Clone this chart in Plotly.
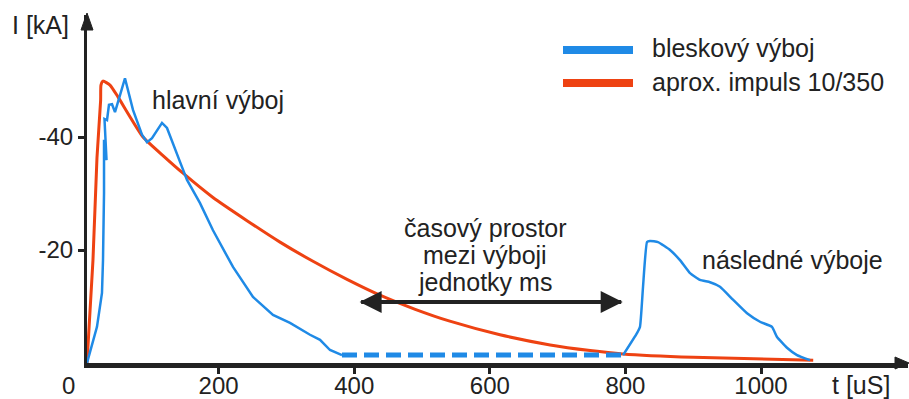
import plotly.graph_objects as go

# ---------------- data (time in µs, current in kA) ----------------
t_main = [5.9, 20.6, 28.0, 29.5, 31.0, 31.0, 34.7, 31.7, 35.4, 38.3, 42.8, 47.2, 54.6, 61.9,
          73.7, 87.0, 94.4, 101.8, 116.5, 123.9, 143.1, 153.4, 172.6, 191.7, 221.2, 250.7,
          280.2, 305.3, 334.8, 349.6, 364.3, 382.0]
i_main = [0, -6.4, -12.4, -18.2, -30.1, -39.5, -35.9, -43.2, -43.0, -45.7, -45.8, -44.4, -47.4, -50.4,
          -44.8, -40.4, -39.1, -39.8, -42.5, -41.6, -35.6, -32.4, -28.3, -23.5, -17.0, -11.7,
          -8.5, -7.1, -5.0, -4.1, -2.3, -1.4]

t_gap = [382.0, 796.5]
i_gap = [-1.4, -1.4]

t_next = [796.5, 817.1, 821.5, 826.0, 831.9, 836.3, 848.1, 865.8, 880.5, 895.3, 910.0, 924.8,
          939.5, 958.7, 979.4, 998.5, 1016.2, 1023.6, 1038.3, 1053.1, 1072.3]
i_next = [-1.4, -5.3, -6.4, -13.5, -21.4, -21.6, -21.4, -20.0, -18.2, -15.9, -14.7, -14.3,
          -13.5, -11.2, -8.8, -7.3, -6.4, -4.6, -2.7, -1.4, -0.5]

t_approx = [5.9, 14.7, 20.6, 26.0, 26.5, 29.5, 39.8, 51.6, 88.5, 120.0, 147.5, 191.7, 241.9,
            290.6, 339.2, 389.4, 438.0, 490.0, 541.0, 615.0, 689.0, 748.0, 796.0, 900.0, 1077.0]
i_approx = [0, -18.2, -36.3, -46.5, -49.2, -49.9, -49.2, -47.1, -40.0, -36.5, -33.6, -29.3, -25.2,
            -21.4, -18.0, -14.8, -12.0, -9.5, -7.4, -5.0, -3.2, -2.2, -1.6, -1.0, -0.5]

x_ticks = [200, 400, 600, 800, 1000]
y_ticks = [-40, -20]
y_tick_text = ["-40", "-20"]

legend_names = ["bleskový výboj", "aprox. impuls 10/350"]
label_main = "hlavní výboj"
label_gap = ["časový prostor", "mezi výboji", "jednotky ms"]
label_next = "následné výboje"
gap_arrow_t = [408, 796]
gap_arrow_i = -10.8

# ---------------- styles ----------------
BLUE = "#1f8ae6"
RED = "#ee4212"
INK = "#222222"
FONT = "Liberation Sans, Arial, sans-serif"

W, H = 909, 399
L, R, T, B = 87, 1, 15, 36
pw, ph = W - L - R, H - T - B


def fx(p):
    return (p - L) / pw


def fy(p):
    return (H - B - p) / ph


fig = go.Figure()
fig.add_trace(go.Scatter(x=t_approx, y=i_approx, mode="lines",
                         line=dict(color=RED, width=3, shape="spline", smoothing=0.5),
                         name=legend_names[1], hoverinfo="skip"))
fig.add_trace(go.Scatter(x=t_main, y=i_main, mode="lines",
                         line=dict(color=BLUE, width=2.5),
                         name=legend_names[0], hoverinfo="skip"))
fig.add_trace(go.Scatter(x=t_gap, y=i_gap, mode="lines",
                         line=dict(color=BLUE, width=5, dash="15px,7px"),
                         showlegend=False, hoverinfo="skip"))
fig.add_trace(go.Scatter(x=t_next, y=i_next, mode="lines",
                         line=dict(color=BLUE, width=2.5, shape="spline", smoothing=0.4),
                         showlegend=False, hoverinfo="skip"))

annotations = []
txt = dict(family=FONT, size=25, color=INK)


def label(x, y, text, anchor="center"):
    annotations.append(dict(x=fx(x), y=fy(y), xref="paper", yref="paper", text=text,
                            showarrow=False, font=txt, xanchor=anchor, yanchor="middle"))


label(218, 100, label_main)
for k, line in enumerate(label_gap):
    label(485, 228 + 27 * k, line)
label(792, 260, label_next)
label(40, 25, "I [kA]")
label(861, 385, "t [uS]")
annotations.append(dict(x=fx(68), y=fy(385), xref="paper", yref="paper", text="0",
                        showarrow=False, font=dict(family=FONT, size=24, color=INK),
                        xanchor="center", yanchor="middle"))
label(650, 48, legend_names[0], "left")
label(650, 82, legend_names[1], "left")

# double arrow (two overlapping full-length arrows)
for end, start in [(gap_arrow_t[0], gap_arrow_t[1]), (gap_arrow_t[1], gap_arrow_t[0])]:
    annotations.append(dict(x=end, y=gap_arrow_i, ax=start, ay=gap_arrow_i, xref="x", yref="y",
                            axref="x", ayref="y", text="", showarrow=True, arrowhead=2,
                            arrowsize=1.1, arrowwidth=4, arrowcolor=INK, standoff=0,
                            startstandoff=0))

shapes = []
shapes.append(dict(type="line", xref="paper", yref="paper", x0=fx(563), x1=fx(633),
                   y0=fy(50), y1=fy(50), line=dict(color=BLUE, width=8)))
shapes.append(dict(type="line", xref="paper", yref="paper", x0=fx(563), x1=fx(633),
                   y0=fy(83), y1=fy(83), line=dict(color=RED, width=8)))
shapes.append(dict(type="path", xref="paper", yref="paper",
                   path=f"M {fx(87)} {fy(13)} L {fx(81)} {fy(30)} L {fx(93)} {fy(30)} Z",
                   fillcolor=INK, line=dict(color=INK, width=1)))
shapes.append(dict(type="path", xref="paper", yref="paper",
                   path=f"M {fx(909)} {fy(363)} L {fx(895)} {fy(357)} L {fx(895)} {fy(369)} Z",
                   fillcolor=INK, line=dict(color=INK, width=1)))

fig.update_layout(
    width=W, height=H,
    margin=dict(l=L, r=R, t=T, b=B, autoexpand=False),
    paper_bgcolor="white", plot_bgcolor="white",
    showlegend=False,
    font=dict(family=FONT, size=24, color=INK),
    annotations=annotations, shapes=shapes,
)
fig.update_xaxes(range=[5.9, 1216.8], tickvals=x_ticks, ticks="outside", ticklen=6, tickwidth=3,
                 tickcolor=INK, showline=True, linewidth=5, linecolor=INK, showgrid=False,
                 zeroline=False, automargin=False, ticklabelstandoff=-9,
                 tickfont=dict(family=FONT, size=24, color=INK))
fig.update_yaxes(range=[0, -61.6], tickvals=y_ticks, ticktext=y_tick_text, ticks="outside",
                 ticklen=6, tickwidth=3, tickcolor=INK, showline=True, linewidth=3, linecolor=INK,
                 showgrid=False, zeroline=False, automargin=False,
                 tickfont=dict(family=FONT, size=24, color=INK))

fig.write_html("out.html", config={"displayModeBar": False},
               post_script="document.body.style.margin='0';document.body.style.overflow='hidden';")
